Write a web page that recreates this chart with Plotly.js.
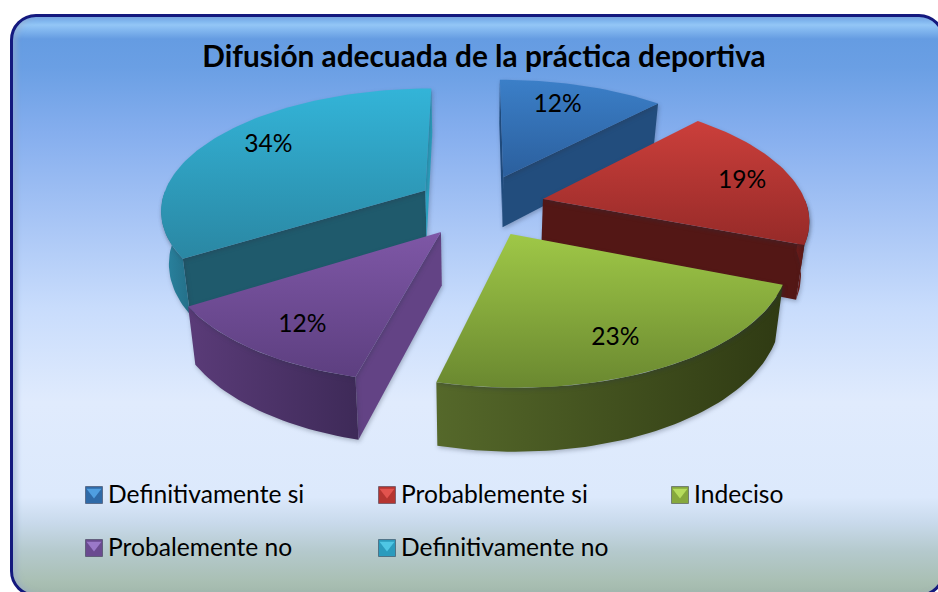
<!DOCTYPE html>
<html><head><meta charset="utf-8">
<script src="https://cdn.plot.ly/plotly-3.0.1.min.js"></script>
<style>
html,body{margin:0;padding:0;width:938px;height:592px;overflow:hidden;background:#fff}
#frame{position:absolute;left:10px;top:14px;width:935px;height:583px;box-sizing:border-box;border:3px solid #14197e;border-radius:26px;
background:linear-gradient(to bottom,#6fa6e8 0px,#93c6f6 8px,#7fb4ee 14px,#659ce2 22px,#6a9fe4 50px,#85aeee 115px,#a6c4f5 200px,#c8dcfc 290px,#e0ebfd 385px,#dce9fc 480px,#c9daec 505px,#b4c9cc 535px,#a9bfb3 565px,#9fb4a8 583px);
box-shadow:inset 4px 0 5px rgba(150,170,200,.55)}
#chart{position:absolute;left:0;top:0;width:938px;height:592px}
#chart .scatterlayer .fills{filter:drop-shadow(1px 2px 2px rgba(40,50,70,.3))}
</style></head><body>
<div id="frame"></div><div id="chart"></div>
<script>
const categories=['Definitivamente si','Probablemente si','Indeciso','Probalemente no','Definitivamente no'];
const values=[12,19,23,12,34];
const topColors=[['#2b5f9d','#3b7fc8'],['#962a28','#cb3f3b'],['#6a8830','#9fc847'],['#5d3f80','#7e57a6'],['#2a87a3','#33b4d8']];
const rimColors=[['#2a6099','#2a6099'],['#6a1c1a','#4c1412'],['#55682a','#2f3a13'],['#5a3b78','#3e2a58'],['#2a86a3','#246f88']];
const startWall=['#1f4c80','#7a2220','#4a5c20','#634385','#1f5a6c'];
const endWall=['#224d7d','#531715','#4a5c20','#5a3b78','#2aa0bf'];
const keyColors=['#2f6aa8','#b53531','#86a83c','#6a4a90','#2b9bbd'];
const keyLight=['#4f9ee0','#e2534e','#b6dc5c','#9a78c8','#4fc6e4'];

/* projection of the exploded pie (not data) */
const cx=474,cy=205,fx=264,gy=120.6,persp=0.15,depth=52,lean=0.025,pull=[0.28,0.27,0.27,0.22,0.2];
const nudgeX=[3,0,3,2,-3],nudgeY=[2.5,1,-1,5,-3];
const labelR=[0.62,0.82,0.78,0.78,0.74];
const labelDx=[3,-3,-8,3,1],labelDy=[-11.5,4,4,5,-5];
const keyX=[94,387,680,94,387],keyY=[495,495,495,548,548];

function proj(i,u,v,z){const s=1/(1+persp*v);return [cx+nudgeX[i]+fx*u*s*(1-lean*z),cy+nudgeY[i]-gy*v*s+z*depth*s];}
const total=values.reduce((a,b)=>a+b,0);
let acc=0;const spans=values.map(v=>{const a=acc/total*2*Math.PI;acc+=v;return [a,acc/total*2*Math.PI];});
function apex(i){const m=(spans[i][0]+spans[i][1])/2;return [pull[i]*Math.sin(m),pull[i]*Math.cos(m)];}
function arcBetween(i,a,b,z,rev){const [au,av]=apex(i),n=Math.max(8,Math.round((b-a)*40)),o=[];
  for(let k=0;k<=n;k++){const t=a+(b-a)*(rev?n-k:k)/n;o.push(proj(i,au+Math.sin(t),av+Math.cos(t),z));}return o;}
function poly(pts,grad,type){return {type:'scatter',mode:'lines',x:pts.map(p=>p[0]),y:pts.map(p=>p[1]),fill:'toself',
  line:{width:0},fillgradient:{type:type,colorscale:[[0,grad[0]],[1,grad[1]]]},hoverinfo:'skip',showlegend:false};}
function edge(t,i,color){const [au,av]=apex(i);const pts=[proj(i,au,av,0),proj(i,au+Math.sin(t),av+Math.cos(t),0),proj(i,au+Math.sin(t),av+Math.cos(t),1),proj(i,au,av,1)];
  return poly(pts,[color,color],'horizontal');}

const traces=[];
const order=[0,4,1,3,2];
const halfPi=Math.PI/2;
order.forEach(i=>{
  const [a,b]=spans[i];
  if(Math.sin(a)<=1e-6) traces.push(edge(a,i,startWall[i]));
  if(Math.sin(b)>=-1e-6) traces.push(edge(b,i,endWall[i]));
  const ra=Math.max(a,halfPi),rb=Math.min(b,3*halfPi);
  if(rb>ra) traces.push(poly(arcBetween(i,ra,rb,0,false).concat(arcBetween(i,ra,rb,1,true)),rimColors[i],'horizontal'));
  const [au,av]=apex(i);
  const t=poly([proj(i,au,av,0)].concat(arcBetween(i,a,b,0,false)),topColors[i],'vertical');
  t.name=categories[i];t.hoverinfo='name';
  traces.push(t);
});
/* percentage labels */
function labelPoint(i){const m=(spans[i][0]+spans[i][1])/2,[au,av]=apex(i),p=proj(i,au+labelR[i]*Math.sin(m),av+labelR[i]*Math.cos(m),0);return [p[0]+labelDx[i],p[1]+labelDy[i]];}
traces.push({type:'scatter',mode:'text',hoverinfo:'skip',showlegend:false,
  x:values.map((v,i)=>labelPoint(i)[0]),y:values.map((v,i)=>labelPoint(i)[1]),
  text:values.map(v=>v+'%'),textposition:'middle center',textfont:{family:'Lato, sans-serif',size:24.6,color:'#000'}});
/* legend keys */
traces.push({type:'scatter',mode:'markers',hoverinfo:'skip',showlegend:false,x:keyX,y:keyY,
  marker:{symbol:'square',size:17,color:keyColors,line:{width:1,color:'rgba(40,40,60,.45)'}}});
traces.push({type:'scatter',mode:'markers',hoverinfo:'skip',showlegend:false,x:keyX,y:keyY.map(y=>y-3),
  marker:{symbol:'triangle-down',size:13,color:keyLight,line:{width:0}}});
traces.push({type:'scatter',mode:'text',hoverinfo:'skip',showlegend:false,x:keyX.map(x=>x+14),y:keyY.map(y=>y+2),
  text:categories,textposition:'middle right',textfont:{family:'Lato, sans-serif',size:24.6,color:'#000'}});

const layout={width:938,height:592,margin:{l:0,r:0,t:0,b:0},paper_bgcolor:'rgba(0,0,0,0)',plot_bgcolor:'rgba(0,0,0,0)',showlegend:false,
  title:{text:'<b>Difusión adecuada de la práctica deportiva</b>',x:484/938,xanchor:'center',xref:'paper',y:1-57/592,yanchor:'middle',yref:'paper',
    font:{family:'Lato, sans-serif',size:29.8,color:'#000'}},
  xaxis:{range:[0,938],visible:false,fixedrange:true},yaxis:{range:[592,0],visible:false,fixedrange:true}};
Plotly.newPlot('chart',traces,layout,{displayModeBar:false});
</script></body></html>
